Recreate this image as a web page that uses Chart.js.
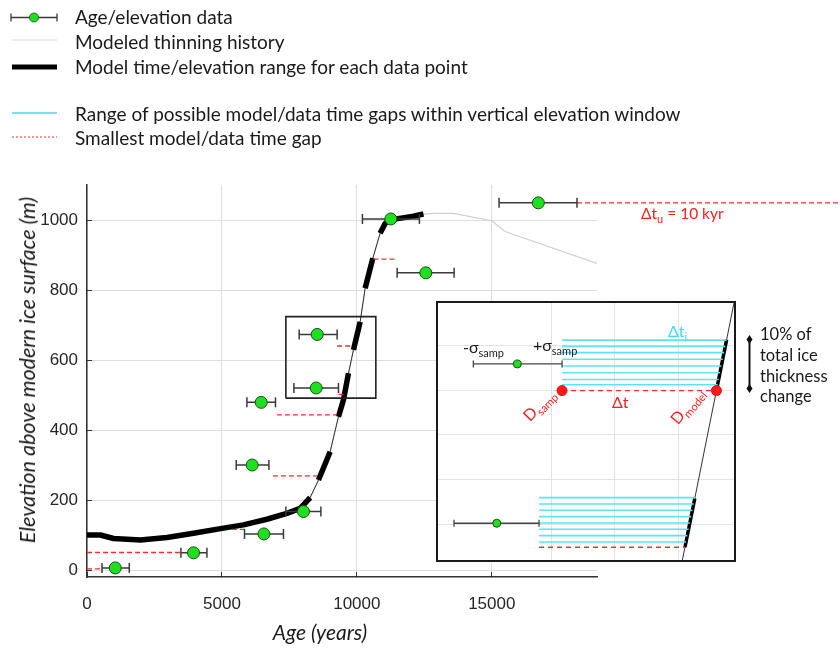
<!DOCTYPE html>
<html lang="en">
<head>
<meta charset="UTF-8">
<title>Age/elevation data and modeled thinning history</title>
<script src="https://cdn.jsdelivr.net/npm/chart.js"></script>
<style>
  body { margin: 0; background: #fff; }
  #wrap { position: relative; width: 840px; height: 648px; overflow: hidden; font-family: Lato, "Open Sans", sans-serif; color: #1a1a1a; }
  #main { position: absolute; left: 0; top: 0; }
  #insetBox { position: absolute; left: 436px; top: 301px; width: 296px; height: 257px; border: 2px solid #1a1a1a; background: #fff; }
  #inset { display: block; }
  .t { position: absolute; white-space: nowrap; line-height: 20px; font-size: 19px; }
  .s { font-size: 16px; }
  .t sub { font-size: 11px; vertical-align: -4px; line-height: 0; }
  .red { color: #f02222; }
  .cyan { color: #3fd9e8; }
  svg { position: absolute; left: 0; top: 0; overflow: visible; }
</style>
</head>
<body>
<div id="wrap">
  <canvas id="main" width="840" height="648"></canvas>

  <!-- legend -->
  <svg width="70" height="150">
    <line x1="11" y1="17.5" x2="57" y2="17.5" stroke="#3a3a3a" stroke-width="1.3"/>
    <line x1="11" y1="13.5" x2="11" y2="21.5" stroke="#3a3a3a" stroke-width="1.3"/>
    <line x1="57" y1="13.5" x2="57" y2="21.5" stroke="#3a3a3a" stroke-width="1.3"/>
    <circle cx="34" cy="17.5" r="4.5" fill="#1fe01f" stroke="#1b4d1b" stroke-width="0.8"/>
    <line x1="12" y1="40" x2="57" y2="40" stroke="#dadada" stroke-width="1"/>
    <line x1="12" y1="67" x2="57" y2="67" stroke="#000" stroke-width="5"/>
    <line x1="12" y1="113" x2="57" y2="113" stroke="#6fe6ef" stroke-width="2"/>
    <line x1="12" y1="137" x2="57" y2="137" stroke="#f03030" stroke-width="1" stroke-dasharray="2,2"/>
  </svg>
  <div class="t" style="left:75px; top:7px;">Age/elevation data</div>
  <div class="t" style="left:75px; top:32px;">Modeled thinning history</div>
  <div class="t" style="left:75px; top:57px;">Model time/elevation range for each data point</div>
  <div class="t" style="left:75px; top:104px;">Range of possible model/data time gaps within vertical elevation window</div>
  <div class="t" style="left:75px; top:128px;">Smallest model/data time gap</div>

  <!-- axis titles -->
  <div class="t" style="left:320px; top:622px; font-size:21px; font-style:italic; transform:translateX(-50%);">Age (years)</div>
  <div class="t" style="left:27px; top:370px; font-size:21.5px; font-style:italic; transform:translate(-50%,-50%) rotate(-90deg);">Elevation above modern ice surface (m)</div>

  <div class="t red" style="left:641px; top:203px; font-size:15.5px;">&Delta;t<sub>u</sub> = 10 kyr</div>

  <div id="insetBox"><canvas id="inset" width="296" height="257"></canvas></div>

  <!-- inset annotations -->
  <div class="t s" style="left:463px; top:337px;">-&sigma;<sub>samp</sub></div>
  <div class="t s" style="left:533px; top:335px;">+&sigma;<sub>samp</sub></div>
  <div class="t s cyan" style="left:668px; top:321px;">&Delta;t<sub>i</sub></div>
  <div class="t s red" style="left:612px; top:392px;">&Delta;t</div>
  <div class="t s red" style="left:533px; top:405px; transform-origin:0 100%; transform:rotate(-46deg);">D<sub>samp</sub></div>
  <div class="t s red" style="left:681px; top:408px; transform-origin:0 100%; transform:rotate(-50deg);">D<sub>model</sub></div>

  <svg width="840" height="648">
    <line x1="749.5" y1="339" x2="749.5" y2="389" stroke="#111" stroke-width="2"/>
    <path d="M749.5 335 L752.5 339.5 L749.5 344 L746.5 339.5 Z" fill="#111"/>
    <path d="M749.5 384 L752.5 388.5 L749.5 393 L746.5 388.5 Z" fill="#111"/>
  </svg>
  <div class="t" style="left:760px; top:324px; font-size:16.5px;">10% of</div>
  <div class="t" style="left:760px; top:345px; font-size:16.5px;">total ice</div>
  <div class="t" style="left:760px; top:366px; font-size:16.5px;">thickness</div>
  <div class="t" style="left:760px; top:386px; font-size:16.5px;">change</div>
</div>

<script>
// ---- main panel data (age in years, elevation in m) ----
const sampleAge   = [1048, 3948, 6556, 8022, 6122, 6456, 8493, 8530, 11259, 12556, 16726];
const sampleElev  = [6, 49, 103, 167, 300, 479, 520, 673, 1003, 849, 1049];
const sampleAgeLo = [556, 3481, 5837, 7370, 5530, 5926, 7667, 7863, 10207, 11493, 15270];
const sampleAgeHi = [1567, 4444, 7281, 8667, 6741, 6985, 9319, 9270, 12319, 13604, 18159];

const modelAge  = [0, 493, 985, 1974, 2963, 3948, 5000, 5800, 6667, 7407, 7900, 8270, 8578, 9011, 9319, 9504, 9690, 9875, 10123, 10307, 10593, 10863, 11048, 11259, 11700, 12100, 12467, 12900, 13578, 15000, 15493, 18900];
const modelElev = [100, 100, 90, 86, 93, 105, 119, 129, 145, 162, 176, 207, 257, 338, 438, 486, 562, 629, 709, 805, 891, 962, 990, 1001, 1006, 1011, 1017, 1019, 1019, 998, 967, 876];
const modelEnd = 12467; // model drawn dark up to here, grey after

// thick model ranges (age)
const thickFrom = [0, 8578, 9319, 9875, 10307, 10863];
const thickTo   = [8270, 9011, 9690, 10123, 10593, 12467];

// smallest model/data gaps
const gapFrom = [0, 0, 5370, 6889, 7037, 9319, 9270, 10617];
const gapTo   = [556, 3481, 5837, 8519, 9259, 9500, 9852, 11419];
const gapElev = [3, 50, 116, 269, 443, 502, 640, 888];
const farGapFrom = 18159, farGapTo = 28000, farGapElev = 1049;

const boxAge = [7370, 10704];
const boxElev = [491, 724];

const xTicks = [0, 5000, 10000, 15000];
const yTicks = [0, 200, 400, 600, 800, 1000];

// ---- inset (schematic units) ----
const insetXMin = 0.205, insetXMax = 4.88, insetYMin = 0.2, insetYMax = 5.95;
const insetModelX = [4.037, 4.887];
const insetModelY = [0, 6];
const insetSampleX  = [1.458, 1.133];
const insetSampleY  = [4.586, 1.022];
const insetSampleLo = [0.763, 0.458];
const insetSampleHi = [2.164, 1.801];
const insetGapY     = [3.99, 0.485];
const insetThickLo  = [3.99, 0.485];
const insetThickHi  = [5.13, 1.58];
const insetCyanUpper = [5.12, 4.98, 4.84, 4.69, 4.54, 4.39, 4.24, 4.12];
const insetCyanLower = [1.595, 1.454, 1.313, 1.170, 1.029, 0.888, 0.745, 0.604];

const GAP = { x: null, y: null };

function pairs(from, to, ys) {
    const pts = [];
    from.forEach((f, i) => pts.push({ x: f, y: ys[i] }, { x: to[i], y: ys[i] }, GAP));
    return pts;
}

const errorPts = pairs(sampleAgeLo, sampleAgeHi, sampleElev);
const gapPts = pairs(gapFrom, gapTo, gapElev);

const thickPts = [];
thickFrom.forEach((f, k) => {
    modelAge.forEach((a, i) => {
        if (a >= f && a <= thickTo[k]) thickPts.push({ x: a, y: modelElev[i] });
    });
    thickPts.push(GAP);
});

const modelAll = modelAge.map((a, i) => ({ x: a, y: modelElev[i] }));
const modelDark = modelAll.filter(p => p.x <= modelEnd);

const lineSet = (data, color, width, extra) => Object.assign({
    data: data, showLine: true, borderColor: color, borderWidth: width,
    pointRadius: 0, tension: 0, spanGaps: false
}, extra || {});

const tickFont = { family: 'Liberation Sans, Arial', size: 17 };

new Chart(document.getElementById('main'), {
    type: 'scatter',
    data: {
        datasets: [
            {
                data: sampleAge.map((a, i) => ({ x: a, y: sampleElev[i] })),
                pointRadius: 6, pointBackgroundColor: '#1fe01f',
                pointBorderColor: '#1b4d1b', pointBorderWidth: 1
            },
            lineSet(errorPts, '#3a3a3a', 1.5, {
                pointStyle: 'line', pointRotation: 90, pointRadius: 5,
                pointBorderColor: '#3a3a3a', pointBorderWidth: 1.5
            }),
            lineSet(gapPts, '#f03030', 1.3, { borderDash: [5, 3] }),
            lineSet([{ x: farGapFrom, y: farGapElev }, { x: farGapTo, y: farGapElev }], '#f03030', 1.3,
                { borderDash: [5, 3], clip: false }),
            lineSet([
                { x: boxAge[0], y: boxElev[0] }, { x: boxAge[1], y: boxElev[0] },
                { x: boxAge[1], y: boxElev[1] }, { x: boxAge[0], y: boxElev[1] },
                { x: boxAge[0], y: boxElev[0] }
            ], '#222', 1.6),
            lineSet(thickPts, '#000', 5.5, { borderJoinStyle: 'round' }),
            lineSet(modelDark, '#333', 1),
            lineSet(modelAll, '#cfcfcf', 1.2)
        ]
    },
    options: {
        responsive: false,
        animation: false,
        events: [],
        plugins: { legend: { display: false }, tooltip: { enabled: false } },
        layout: { padding: { left: 0, top: 185, right: 243, bottom: 0 } },
        scales: {
            x: {
                type: 'linear', min: 0, max: 18900,
                afterBuildTicks: s => { s.ticks = xTicks.map(v => ({ value: v })); },
                afterFit: s => { s.height = 71; },
                ticks: { color: '#262626', padding: 22, font: tickFont, callback: v => String(v) },
                grid: { color: '#dedede', lineWidth: 1, tickLength: -5, tickColor: '#333' },
                border: { color: '#333', width: 1.5 }
            },
            y: {
                type: 'linear', min: -20, max: 1100,
                afterBuildTicks: s => { s.ticks = yTicks.map(v => ({ value: v })); },
                afterFit: s => { s.width = 87; },
                ticks: { color: '#262626', padding: 14, font: tickFont, callback: v => String(v) },
                grid: { color: '#dedede', lineWidth: 1, tickLength: -5, tickColor: '#333' },
                border: { color: '#333', width: 1.5 }
            }
        }
    }
});

// ---- inset ----
function onModel(y) {
    const t = (y - insetModelY[0]) / (insetModelY[1] - insetModelY[0]);
    return insetModelX[0] + t * (insetModelX[1] - insetModelX[0]);
}

const cyanPts = [];
insetCyanUpper.forEach(y => cyanPts.push({ x: insetSampleHi[0], y: y }, { x: onModel(y), y: y }, GAP));
insetCyanLower.forEach(y => cyanPts.push({ x: insetSampleHi[1], y: y }, { x: onModel(y), y: y }, GAP));

const insetGapPts = [];
insetGapY.forEach((y, i) => insetGapPts.push({ x: insetSampleHi[i], y: y }, { x: onModel(y), y: y }, GAP));

const insetThickPts = [];
insetThickLo.forEach((lo, i) => insetThickPts.push({ x: onModel(lo), y: lo }, { x: onModel(insetThickHi[i]), y: insetThickHi[i] }, GAP));

const integerTicks = s => { s.ticks = s.ticks.filter(t => Number.isInteger(t.value)); };

new Chart(document.getElementById('inset'), {
    type: 'scatter',
    data: {
        datasets: [
            {
                data: [{ x: insetSampleHi[0], y: insetGapY[0] }, { x: onModel(insetGapY[0]), y: insetGapY[0] }],
                pointRadius: 5, pointBackgroundColor: '#ff1a1a', pointBorderColor: '#e01010', pointBorderWidth: 1
            },
            {
                data: insetSampleX.map((x, i) => ({ x: x, y: insetSampleY[i] })),
                pointRadius: 4, pointBackgroundColor: '#1fe01f', pointBorderColor: '#1b4d1b', pointBorderWidth: 1
            },
            lineSet(pairs(insetSampleLo, insetSampleHi, insetSampleY), '#444', 1.3, {
                pointStyle: 'line', pointRotation: 90, pointRadius: 3.5,
                pointBorderColor: '#444', pointBorderWidth: 1.3
            }),
            lineSet(insetGapPts, '#f03030', 1.4, { borderDash: [5, 4] }),
            lineSet(cyanPts, '#5fe3ee', 1.6),
            lineSet(insetThickPts, '#000', 3.5),
            lineSet(insetModelX.map((x, i) => ({ x: x, y: insetModelY[i] })), '#333', 1)
        ]
    },
    options: {
        responsive: false,
        animation: false,
        events: [],
        plugins: { legend: { display: false }, tooltip: { enabled: false } },
        layout: { padding: 0, autoPadding: false },
        scales: {
            x: {
                type: 'linear', min: insetXMin, max: insetXMax,
                afterBuildTicks: integerTicks,
                afterFit: s => { s.height = 0; },
                ticks: { display: false, stepSize: 1 },
                grid: { color: '#e3e3e3', drawTicks: false },
                border: { display: false }
            },
            y: {
                type: 'linear', min: insetYMin, max: insetYMax,
                afterBuildTicks: integerTicks,
                afterFit: s => { s.width = 0; },
                ticks: { display: false, stepSize: 1 },
                grid: { color: '#e3e3e3', drawTicks: false },
                border: { display: false }
            }
        }
    }
});
</script>
</body>
</html>
